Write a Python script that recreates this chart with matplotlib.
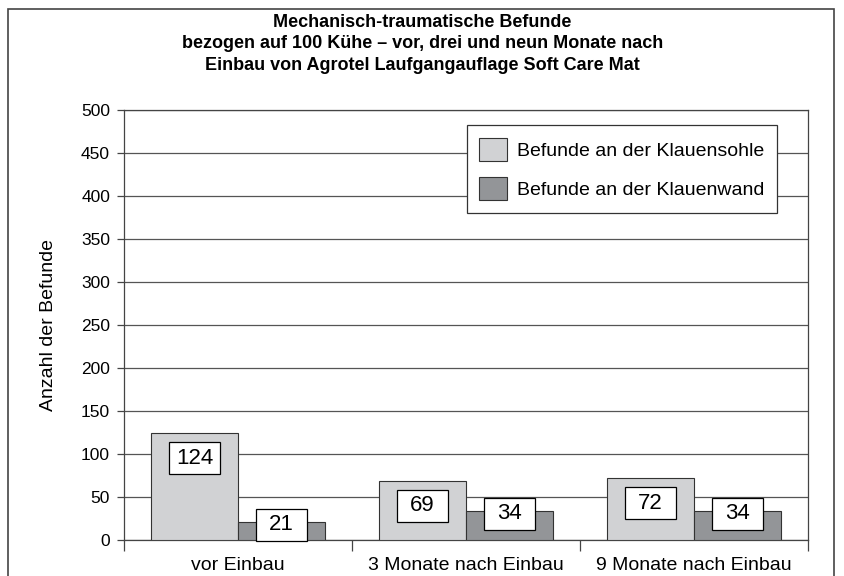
import numpy as np
import matplotlib.pyplot as plt
from matplotlib.path import Path
from matplotlib.patches import Rectangle

# data
categories = ['vor Einbau', '3 Monate nach Einbau', '9 Monate nach Einbau']
sohle = [124, 69, 72]   # Befunde an der Klauensohle
wand = [21, 34, 34]     # Befunde an der Klauenwand
series_names = ['Befunde an der Klauensohle', 'Befunde an der Klauenwand']
title = ('Mechanisch-traumatische Befunde\n'
         'bezogen auf 100 Kühe – vor, drei und neun Monate nach\n'
         'Einbau von Agrotel Laufgangauflage Soft Care Mat')

light = '#d1d2d4'
dark = '#939598'
edge = '#333333'


def fixed_box(x0, y0, width, height, mutation_size):
    # white label box of constant size, centred on the text
    cx, cy = x0 + width / 2, y0 + height / 2
    w, h = 2.3 * mutation_size, 1.44 * mutation_size
    verts = [(cx - w/2, cy - h/2), (cx + w/2, cy - h/2), (cx + w/2, cy + h/2),
             (cx - w/2, cy + h/2), (cx - w/2, cy - h/2)]
    return Path(verts, closed=True)


plt.rcParams['font.family'] = ['Liberation Sans', 'DejaVu Sans']
fig = plt.figure(figsize=(8.45, 5.76), dpi=100)
ax = fig.add_axes([0.1467, 0.0625, 0.8095, 0.7465])

x = np.arange(len(categories))
w = 0.38
ax.bar(x - 0.19, sohle, w, color=light, edgecolor=edge, linewidth=0.8, zorder=3,
       label=series_names[0])
ax.bar(x + 0.19, wand, w, color=dark, edgecolor=edge, linewidth=0.8, zorder=3,
       label=series_names[1])

# data labels
for xi, v in zip(x - 0.19, sohle):
    ax.annotate(str(v), (xi, v), xytext=(0, -18), textcoords='offset points',
                ha='center', va='center', fontsize=16, zorder=5,
                bbox=dict(boxstyle=fixed_box, fc='white', ec='black', lw=0.9))
for xi, v in zip(x + 0.19, wand):
    ax.annotate(str(v), (xi, v), xytext=(0, -2), textcoords='offset points',
                ha='center', va='center', fontsize=16, zorder=5,
                bbox=dict(boxstyle=fixed_box, fc='white', ec='black', lw=0.9))

ax.set_xlim(-0.5, 2.5)
ax.set_ylim(0, 500)
ax.set_yticks(np.arange(0, 501, 50))
ax.tick_params(axis='y', labelsize=12.5, length=5, width=0.9, pad=5, color='#444444')
ax.set_xticks(x)
ax.set_xticklabels(categories)
ax.tick_params(axis='x', which='major', length=0, labelsize=14, pad=12)
ax.set_xticks([-0.5, 0.5, 1.5, 2.5], minor=True)
ax.tick_params(axis='x', which='minor', length=8, width=0.9, color='#444444')
ax.yaxis.grid(True, color='#555555', linewidth=0.9, zorder=0)
ax.set_axisbelow(True)
for s in ax.spines.values():
    s.set_color('#444444')
    s.set_linewidth(0.9)
ax.set_ylabel('Anzahl der Befunde', fontsize=14, labelpad=17)

leg = ax.legend(loc='upper right', bbox_to_anchor=(0.955, 0.965), borderaxespad=0,
                fontsize=14, fancybox=False, edgecolor='#333333', framealpha=1,
                handlelength=1.45, handleheight=1.45, labelspacing=0.85,
                handletextpad=0.5, borderpad=0.65)
leg.get_frame().set_linewidth(0.9)

fig.text(0.5, 1 - 44 / 576, title, ha='center', va='center', fontsize=13,
         fontweight='bold', linespacing=1.32)

# outer frame of the chart
fig.add_artist(Rectangle((8 / 845, -0.05), 826 / 845, 1.05 - 9 / 576,
                         transform=fig.transFigure, fill=False,
                         ec='#444444', lw=1.2))

plt.savefig('out.png', dpi=100)
